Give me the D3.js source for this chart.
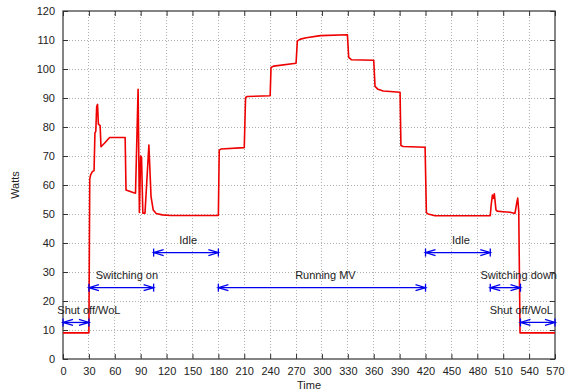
<!DOCTYPE html>
<html>
<head>
<meta charset="utf-8">
<script src="https://cdn.jsdelivr.net/npm/d3@7"></script>
<style>
  body { margin: 0; background: #fff; }
  text { font-family: "Liberation Sans", Arial, sans-serif; }
</style>
</head>
<body>
<div id="chart"></div>
<script>
// power trace
const times = [0, 30, 31, 32, 34, 36, 37, 38, 39, 40, 41, 43, 44, 48, 54, 72, 73, 82, 84, 87, 88.5, 90, 91, 92.5, 95,
  99.5, 102, 104.5, 108, 115, 125, 180, 181, 183, 210, 211.5, 213, 240, 241, 244, 270, 271.5, 275, 282, 298, 329.5,
  331, 334, 360, 361.5, 365, 371, 390.5, 391.5, 394, 419.5, 421, 423, 431, 495, 496, 497.5, 498.5, 499.7, 501.6,
  503, 510, 518, 523.6, 525.6, 526.8, 528, 529.5, 570];
const watts = [9, 9, 62, 63.5, 64.6, 65, 78, 78.5, 87, 87.8, 81, 80.5, 73.2, 74.4, 76.4, 76.4, 58.3, 57.3, 57.2, 93,
  50.5, 70, 69.5, 50.3, 50.3, 73.8, 56, 51.4, 50.2, 49.7, 49.5, 49.5, 72, 72.4, 72.9, 90.1, 90.5, 90.8, 100.5, 101,
  102, 109.7, 110.3, 110.8, 111.5, 111.8, 104, 103.2, 103, 94, 93, 92.4, 92, 73.6, 73.3, 73, 50.5, 50, 49.4, 49.4,
  53, 56.5, 55.4, 57, 51.4, 51, 50.8, 50.6, 50.2, 53.7, 55.5, 51, 9, 9];

// phase annotations
const phaseLabels = ['Shut off/WoL', 'Switching on', 'Idle', 'Running MV', 'Idle', 'Switching down', 'Shut off/WoL'];
const phaseStart = [0, 30, 105, 180, 420, 495, 530];
const phaseEnd = [30, 105, 180, 420, 495, 530, 570];
const phaseLevel = [12.6, 24.6, 36.7, 24.6, 36.7, 24.6, 12.6];
const labelTime = [30, 74, 145, 304, 461, 528, 531];
const labelLevel = [15.5, 27.6, 39.7, 27.6, 39.7, 27.6, 15.5];

const xTicks = d3.range(0, 571, 30);
const yTicks = d3.range(0, 121, 10);

const W = 571, H = 392;
const margin = { top: 11, right: 16, bottom: 33, left: 63 };
const width = W - margin.left - margin.right;
const height = H - margin.top - margin.bottom;

const svg = d3.select('#chart').append('svg')
  .attr('width', W)
  .attr('height', H);
const g = svg.append('g').attr('transform', `translate(${margin.left},${margin.top})`);

const x = d3.scaleLinear().domain([0, 570]).range([0, width]);
const y = d3.scaleLinear().domain([0, 120]).range([height, 0]);

// dotted grid
g.append('g').attr('class', 'grid')
  .selectAll('line.gx').data(xTicks.slice(1, -1)).enter().append('line')
  .attr('x1', (d) => x(d)).attr('x2', (d) => x(d))
  .attr('y1', 0).attr('y2', height);
g.append('g').attr('class', 'grid')
  .selectAll('line.gy').data(yTicks.slice(1, -1)).enter().append('line')
  .attr('x1', 0).attr('x2', width)
  .attr('y1', (d) => y(d)).attr('y2', (d) => y(d));
g.selectAll('.grid line')
  .attr('stroke', '#b0b0b0')
  .attr('stroke-width', 1)
  .attr('stroke-dasharray', '1,2')
  .attr('shape-rendering', 'crispEdges');

// axes, ticks inward on all four sides
const xAxis = g.append('g').attr('transform', `translate(0,${height})`)
  .call(d3.axisBottom(x).tickValues(xTicks).tickSizeInner(-5).tickSizeOuter(0).tickPadding(8));
const yAxis = g.append('g')
  .call(d3.axisLeft(y).tickValues(yTicks).tickSizeInner(-5).tickSizeOuter(0).tickPadding(8));
const xTop = g.append('g')
  .call(d3.axisTop(x).tickValues(xTicks).tickSizeInner(-5).tickSizeOuter(0).tickFormat(''));
const yRight = g.append('g').attr('transform', `translate(${width},0)`)
  .call(d3.axisRight(y).tickValues(yTicks).tickSizeInner(-5).tickSizeOuter(0).tickFormat(''));

[xAxis, yAxis, xTop, yRight].forEach((a) => {
  a.select('.domain').remove();
  a.selectAll('.tick line').attr('stroke', '#333');
  a.selectAll('.tick text').attr('fill', '#222').style('font-size', '11px');
});

g.append('rect')
  .attr('width', width).attr('height', height)
  .attr('fill', 'none')
  .attr('stroke', '#333')
  .attr('stroke-width', 1.2);

// axis titles
svg.append('text')
  .attr('x', margin.left + width / 2).attr('y', 389)
  .attr('text-anchor', 'middle')
  .attr('fill', '#222').style('font-size', '11px')
  .text('Time');
svg.append('text')
  .attr('transform', `translate(19,${margin.top + height / 2}) rotate(-90)`)
  .attr('text-anchor', 'middle')
  .attr('fill', '#222').style('font-size', '11px')
  .text('Watts');

// power line
const line = d3.line().x((d, i) => x(times[i])).y((d) => y(d));
g.append('path')
  .datum(watts)
  .attr('d', line)
  .attr('fill', 'none')
  .attr('stroke', '#ee0000')
  .attr('stroke-width', 1.6)
  .attr('stroke-linejoin', 'round');

// phase arrows: heads at both ends with a bar
const blue = '#0000ee';
const ag = g.append('g').attr('stroke', blue).attr('stroke-width', 1.3).attr('fill', 'none');
phaseLabels.forEach((label, i) => {
  const x1 = x(phaseStart[i]);
  const x2 = x(phaseEnd[i]);
  const yy = y(phaseLevel[i]);
  ag.append('line').attr('x1', x1).attr('x2', x2).attr('y1', yy).attr('y2', yy);
  [[x1, 1], [x2, -1]].forEach(([px, dir]) => {
    ag.append('line').attr('x1', px).attr('x2', px).attr('y1', yy - 4).attr('y2', yy + 4);
    ag.append('path').attr('d', `M${px + dir * 10},${yy - 3}L${px},${yy}L${px + dir * 10},${yy + 3}`);
  });
  g.append('text')
    .attr('x', x(labelTime[i]))
    .attr('y', y(labelLevel[i]))
    .attr('text-anchor', 'middle')
    .attr('fill', '#222').style('font-size', '11px')
    .text(label);
});
</script>
</body>
</html>
